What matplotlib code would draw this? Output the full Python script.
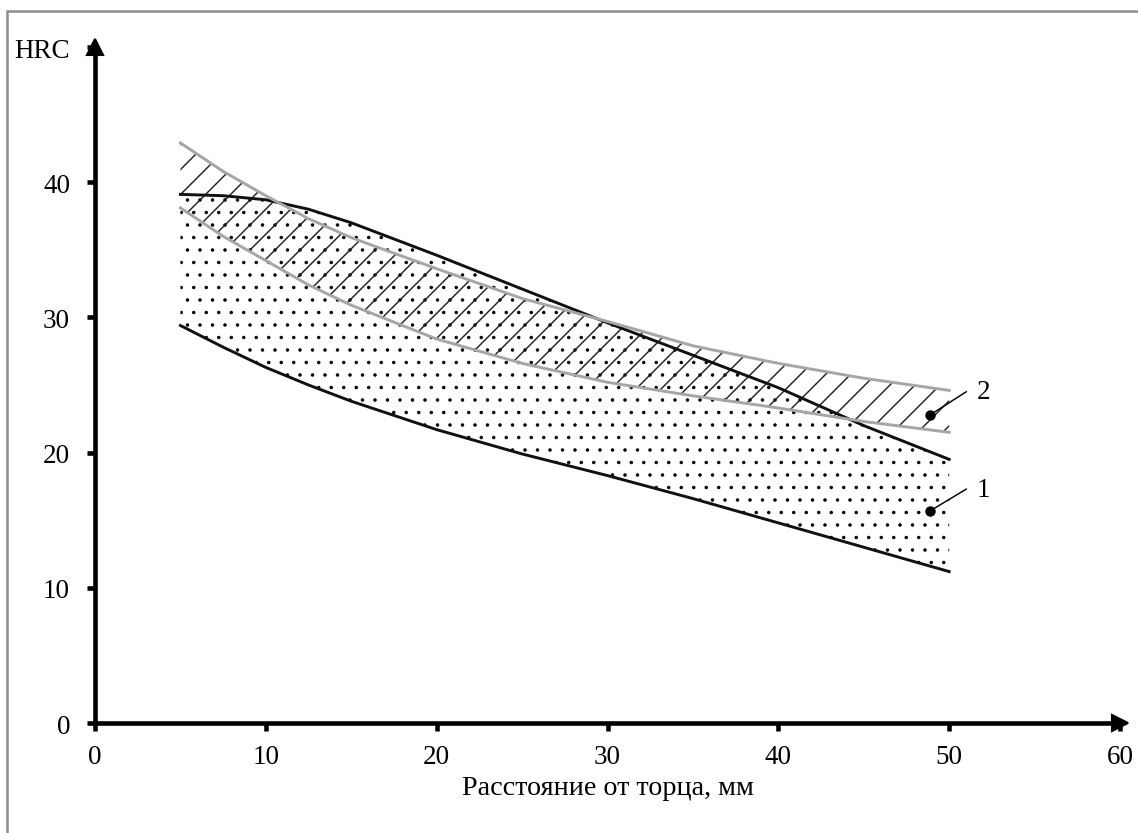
"""Твердость HRC по расстоянию от торца: полосы 1 и 2"""

import matplotlib
matplotlib.use("Agg")
import matplotlib.pyplot as plt
from matplotlib.patches import Rectangle

plt.rcParams['font.family'] = ['Liberation Serif', 'DejaVu Serif']

# distance from the quenched end, mm
dist = [5, 7.5, 10, 12.5, 15, 20, 25, 30, 35, 40, 45, 50]

# band 1 (stippled), between the black lines
band1_low = [29.4, 27.8, 26.3, 25.0, 23.8, 21.7, 19.9, 18.3, 16.6, 14.8, 13.0, 11.2]
band1_high = [39.1, 39.0, 38.7, 38.0, 37.0, 34.6, 32.1, 29.6, 27.2, 24.8, 22.0, 19.5]

# band 2 (hatched), between the grey lines
band2_low = [38.1, 36.0, 34.2, 32.4, 30.9, 28.4, 26.6, 25.2, 24.2, 23.3, 22.3, 21.5]
band2_high = [42.9, 40.8, 39.0, 37.3, 35.9, 33.6, 31.4, 29.7, 27.9, 26.6, 25.5, 24.6]

x_ticks = [0, 10, 20, 30, 40, 50, 60]
y_ticks = [0, 10, 20, 30, 40, 50]
y_tick_labels = ['0', '10', '20', '30', '40', 'HRC']

# label marks: (dot x, dot y, text x, text y, text)
marks = [(48.9, 15.7, 51.6, 17.3, '1'),
         (48.9, 22.8, 51.6, 24.5, '2')]

DPI = 150
FS = 13
fig = plt.figure(figsize=(1138 / DPI, 834 / DPI), dpi=DPI)

# grey frame around the picture
fig.patches.append(Rectangle((7 / 1138, -0.05), 1.1, 1 - 12 / 834 + 0.05,
                             transform=fig.transFigure, fill=False,
                             edgecolor='#8c8c8c', linewidth=1.2))

ax = fig.add_axes([95 / 1138, 1 - 724 / 834, (1120 - 95) / 1138, (724 - 48) / 834])
ax.set_xlim(0, 60)
ax.set_ylim(0, 50)

# band 1: stippled (fine dots)
with plt.rc_context({'hatch.linewidth': 0.45}):
    ax.fill_between(dist, band1_low, band1_high, facecolor='none',
                    edgecolor='black', hatch='..', linewidth=0)
ax.plot(dist, band1_low, color='#111111', lw=1.4)
ax.plot(dist, band1_high, color='#111111', lw=1.4)

# band 2: hatched
with plt.rc_context({'hatch.linewidth': 0.7}):
    ax.fill_between(dist, band2_low, band2_high, facecolor='none',
                    edgecolor='#222222', hatch='//', linewidth=0)
ax.plot(dist, band2_low, color='#a6a6a6', lw=1.4)
ax.plot(dist, band2_high, color='#a6a6a6', lw=1.4)

for dx, dy, tx, ty, txt in marks:
    ax.plot(dx, dy, 'o', color='black', ms=4)
    ax.plot([dx, tx - 0.6], [dy, ty], color='black', lw=0.7)
    ax.text(tx, ty, txt, fontsize=FS, ha='left', va='center')

# axes with arrows
for side in ['top', 'right']:
    ax.spines[side].set_visible(False)
ax.spines['left'].set_linewidth(2.2)
ax.spines['bottom'].set_linewidth(2.2)
ax.plot(1, 0, '>', color='black', ms=8, transform=ax.transAxes, clip_on=False)
ax.plot(0, 1, '^', color='black', ms=8, transform=ax.transAxes, clip_on=False)

ax.set_xticks(x_ticks)
ax.set_yticks(y_ticks)
ax.set_yticklabels(y_tick_labels)
ax.tick_params(direction='out', length=4, width=2.2, labelsize=FS, pad=8)
ax.tick_params(axis='x', pad=6)
ax.set_xlabel('Расстояние от торца, мм', fontsize=13.5, labelpad=3)

fig.savefig('out.png', dpi=DPI)
